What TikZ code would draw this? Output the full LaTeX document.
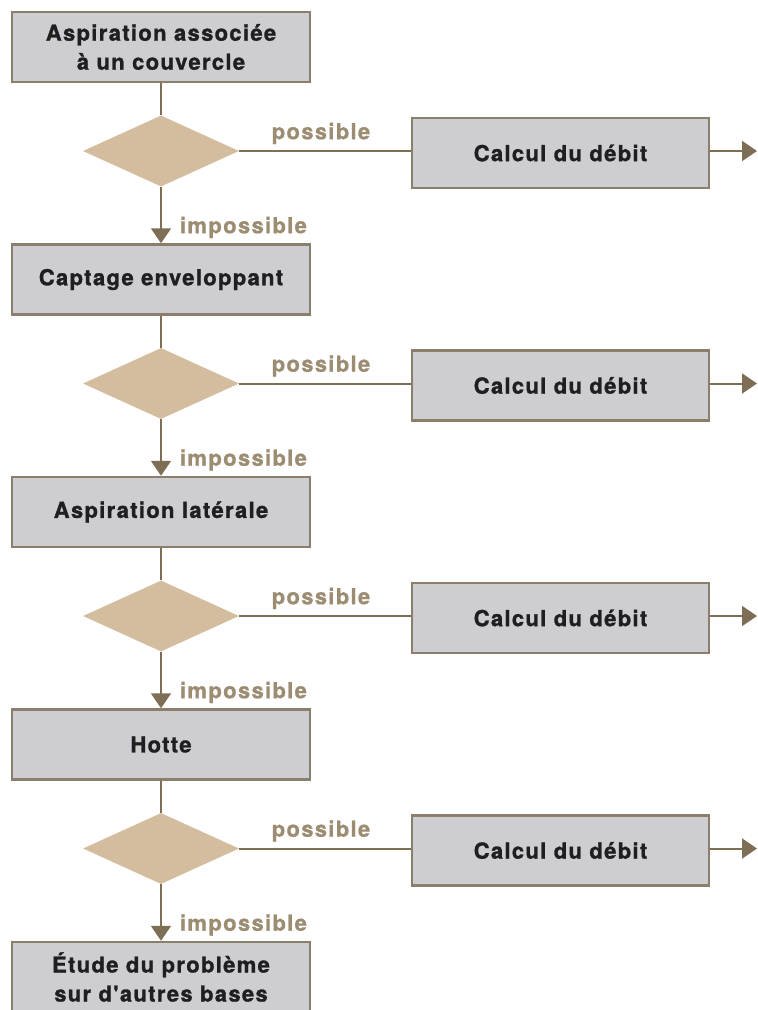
\documentclass[tikz,border=0pt]{standalone}
\usepackage{fontspec}
\setmainfont{TeX Gyre Heros}
\newfontfamily\widefont[LetterSpace=6,FakeBold=1.2]{TeX Gyre Heros}
\newfontfamily\labfont[LetterSpace=6,FakeBold=0.8]{TeX Gyre Heros}
\usetikzlibrary{shapes.geometric,arrows.meta}
\definecolor{linec}{HTML}{7D6E55}
\definecolor{boxborder}{HTML}{8B7F6C}
\definecolor{boxfill}{HTML}{CDCDD2}
\definecolor{diafill}{HTML}{D4BD9F}
\definecolor{labc}{HTML}{9C8C72}
\tikzset{
  stepbox/.style={draw=boxborder, fill=boxfill, line width=2.5pt, minimum height=70pt, inner sep=0pt,
    align=center, font=\widefont\bfseries\fontsize{22}{29}\selectfont, text=black!88},
  leftbox/.style={stepbox, minimum width=298pt},
  calcbox/.style={stepbox, minimum width=297pt},
  decision/.style={diamond, fill=diafill, draw=none, minimum width=156pt, minimum height=71pt, inner sep=0pt, aspect=2.2},
  conn/.style={draw=linec, line width=2pt},
  arr/.style={conn, -{Triangle[width=20pt,length=15pt]}},
  lab/.style={text=labc, font=\labfont\bfseries\fontsize{22}{24}\selectfont, inner sep=0pt}
}
\begin{document}
\begin{tikzpicture}[x=1pt,y=-1pt]
\useasboundingbox (0,0) rectangle (758,1010);
\fill[white] (0,0) rectangle (758,1010);
% left boxes
\node[leftbox] (b1) at (161,47) {Aspiration associée\\à un couvercle};
\node[leftbox] (b2) at (161,279.5) {Captage enveloppant};
\node[leftbox] (b3) at (161,512) {Aspiration latérale};
\node[leftbox] (b4) at (161,744.5) {Hotte};
\node[leftbox] (b5) at (161,977) {Étude du problème\\sur d'autres bases};
% diamonds
\node[decision] (d1) at (161,151) {};
\node[decision] (d2) at (161,383.5) {};
\node[decision] (d3) at (161,616) {};
\node[decision] (d4) at (161,848.5) {};
% calc boxes
\node[calcbox] (c1) at (560.5,153) {Calcul du débit};
\node[calcbox] (c2) at (560.5,385.5) {Calcul du débit};
\node[calcbox] (c3) at (560.5,618) {Calcul du débit};
\node[calcbox] (c4) at (560.5,850.5) {Calcul du débit};
% end coordinates
\coordinate (e1) at (757,153);
\coordinate (e2) at (757,385.5);
\coordinate (e3) at (757,618);
\coordinate (e4) at (757,850.5);
% connectors
\foreach \i/\j in {1/2,2/3,3/4,4/5}{
  \draw[conn] (b\i.south) -- (d\i.north);
  \draw[arr] (d\i.south) -- (b\j.north)
     node[lab, pos=0.72, anchor=west, xshift=18pt] {impossible};
  \draw[conn] (d\i.east) -- (d\i.east -| c\i.west)
     node[lab, midway, above=6pt, xshift=-4pt] {possible};
  \draw[arr] (c\i.east |- d\i.east) -- (e\i |- d\i.east);
}
\end{tikzpicture}
\end{document}
